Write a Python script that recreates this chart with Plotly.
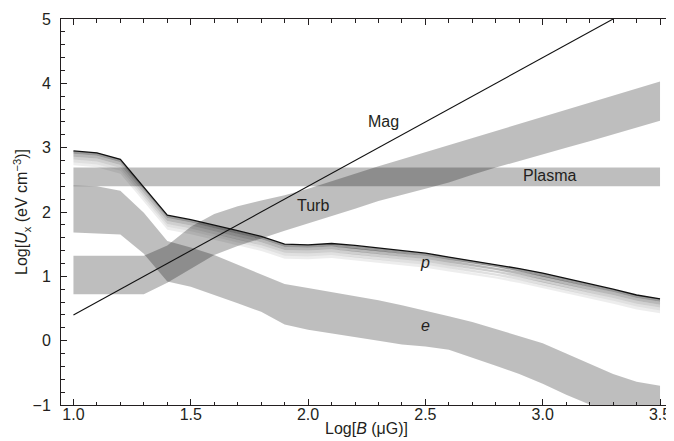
import plotly.graph_objects as go

# ---- data ----
B = [1.0, 1.1, 1.2, 1.3, 1.4, 1.5, 1.6, 1.7, 1.8, 1.9, 2.0, 2.1, 2.2, 2.3, 2.4,
     2.5, 2.6, 2.7, 2.8, 2.9, 3.0, 3.1, 3.2, 3.3, 3.4, 3.5]

proton = [2.95, 2.92, 2.82, 2.38, 1.95, 1.88, 1.80, 1.71, 1.62, 1.50, 1.49, 1.51, 1.48,
          1.44, 1.40, 1.36, 1.30, 1.24, 1.19, 1.12, 1.05, 0.97, 0.88, 0.80, 0.71, 0.65]

e_top = [2.41, 2.40, 2.33, 1.99, 1.55, 1.45, 1.33, 1.18, 1.03, 0.88, 0.82, 0.76, 0.69,
         0.63, 0.55, 0.47, 0.38, 0.29, 0.18, 0.07, -0.04, -0.20, -0.36, -0.52, -0.64, -0.70]
e_bot = [1.68, 1.67, 1.65, 1.35, 0.92, 0.84, 0.71, 0.58, 0.45, 0.25, 0.17, 0.12, 0.06,
         0.00, -0.06, -0.09, -0.14, -0.27, -0.39, -0.52, -0.67, -0.84, -1.00, -1.15, -1.30, -1.45]

turb_top = [1.32, 1.32, 1.32, 1.32, 1.48, 1.77, 1.97, 2.09, 2.18, 2.26, 2.36, 2.48, 2.60,
            2.71, 2.82, 2.93, 3.04, 3.14, 3.25, 3.36, 3.47, 3.58, 3.69, 3.80, 3.92, 4.03]
turb_bot = [0.72, 0.72, 0.72, 0.72, 0.90, 1.12, 1.33, 1.47, 1.59, 1.71, 1.82, 1.94, 2.05,
            2.17, 2.26, 2.36, 2.46, 2.58, 2.69, 2.79, 2.90, 3.00, 3.10, 3.21, 3.31, 3.42]

plasma_B = [1.0, 3.5]
plasma_top = [2.69, 2.69]
plasma_bot = [2.40, 2.40]

mag_B = [1.0, 3.3]
mag_U = [0.4, 5.0]

labels = ["Mag", "Plasma", "Turb", "<i>p</i>", "<i>e</i>"]
label_B = [2.32, 3.03, 2.02, 2.50, 2.50]
label_U = [3.41, 2.56, 2.10, 1.22, 0.23]

x_ticks = [1.0, 1.5, 2.0, 2.5, 3.0, 3.5]
y_ticks = [-1, 0, 1, 2, 3, 4, 5]

# ---- figure ----
BAND = "rgba(0,0,0,0.255)"
TXT = "#231f20"
FONT = "Liberation Sans, Arial, Helvetica, sans-serif"

fig = go.Figure()


def band(xs, top, bot, color):
    fig.add_trace(go.Scatter(
        x=list(xs) + list(xs)[::-1], y=list(top) + list(bot)[::-1],
        mode="lines", fill="toself", fillcolor=color, line=dict(width=0),
        hoverinfo="skip", showlegend=False))


band(plasma_B, plasma_top, plasma_bot, BAND)
band(B, turb_top, turb_bot, BAND)
band(B, e_top, e_bot, BAND)

# proton shaded stack under the line
layer_alpha = [0.40, 0.28, 0.19, 0.12, 0.07]
step = 0.045
for k, a in enumerate(layer_alpha):
    top = [v - k * step for v in proton]
    bot = [v - (k + 1) * step for v in proton]
    band(B, top, bot, f"rgba(0,0,0,{a})")

fig.add_trace(go.Scatter(x=B, y=proton, mode="lines",
                         line=dict(color="#111111", width=1.3),
                         hoverinfo="skip", showlegend=False))
fig.add_trace(go.Scatter(x=mag_B, y=mag_U, mode="lines",
                         line=dict(color="#111111", width=1.1),
                         hoverinfo="skip", showlegend=False))

for t, x, y in zip(labels, label_B, label_U):
    fig.add_annotation(x=x, y=y, text=t, showarrow=False,
                       font=dict(family=FONT, size=16, color=TXT))

axis_common = dict(
    showgrid=False, zeroline=False, showline=True, linecolor="#231f20", linewidth=1,
    mirror="ticks", ticks="inside", ticklen=6, tickwidth=1, tickcolor="#231f20",
    tickfont=dict(family=FONT, size=16, color=TXT), automargin=False,
)

fig.update_xaxes(
    range=[0.947, 3.551], tickvals=x_ticks, ticktext=[f"{v:.1f}" for v in x_ticks],
    minor=dict(dtick=0.1, tick0=1.0, ticks="inside", ticklen=3.5, tickcolor="#231f20"),
    ticklabelstandoff=-5,
    title=dict(text="Log[<i>B</i> (μG)]", font=dict(family=FONT, size=16, color=TXT), standoff=0),
    **axis_common)
fig.update_yaxes(
    range=[-1, 5], tickvals=y_ticks, ticktext=["\u22121" if v == -1 else str(v) for v in y_ticks],
    minor=dict(dtick=0.2, tick0=0, ticks="inside", ticklen=3.5, tickcolor="#231f20"),
    ticklabelstandoff=6,
    title=dict(text="Log[<i>U</i><sub>x</sub> (eV cm<sup>\u22123</sup>)]",
               font=dict(family=FONT, size=16, color=TXT), standoff=0),
    **axis_common)

# the page adds an 8px body margin, so the figure is sized to fit the window
fig.update_layout(
    width=666, height=433,
    margin=dict(l=53, r=2, t=11, b=36),
    plot_bgcolor="white", paper_bgcolor="white",
    font=dict(family=FONT, size=16, color=TXT),
)

fig.write_html("out.html")
